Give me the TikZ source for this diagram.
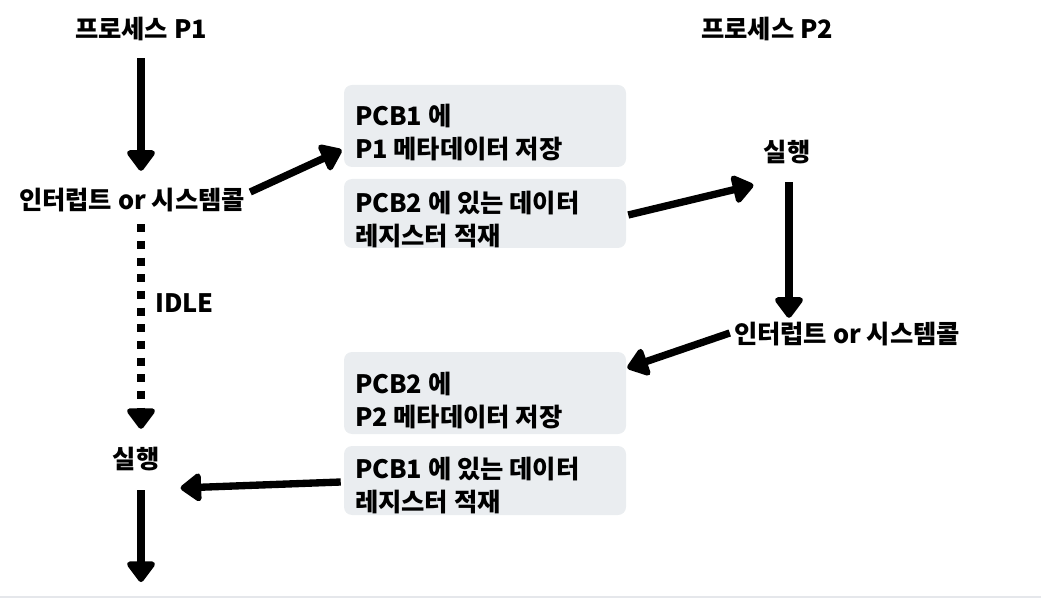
\documentclass[tikz,border=0pt]{standalone}
\usepackage{fontspec}
\newfontfamily\kor{Noto Sans CJK KR}
\usetikzlibrary{arrows.meta}
\definecolor{boxgray}{RGB}{234,237,240}
\definecolor{edgegray}{RGB}{229,231,235}

\tikzset{
  lbl/.style={font=\kor\bfseries\fontsize{19}{24.6}\selectfont, inner sep=0pt},
  pcbbox/.style={fill=boxgray, rounded corners=6pt, minimum width=211.5pt, inner sep=0pt},
  pcbtxt/.style={lbl, align=left, anchor=north west},
  flow/.style={line width=5.5pt, -{Triangle[length=17pt,width=24pt,round]}},
  idleflow/.style={flow, dash pattern=on 6pt off 6.5pt}
}

\begin{document}
\begin{tikzpicture}[x=0.75pt, y=-0.75pt]
\useasboundingbox (0,0) rectangle (1041,598);
\fill[edgegray] (0,596) rectangle (1041,598);

% process labels
\node[lbl] (p1) at (141,29) {프로세스 P1};
\node[lbl] (p2) at (767,29) {프로세스 P2};
\node[lbl] (int1) at (132,200) {인터럽트 or 시스템콜};
\node[lbl] (run1) at (136,459) {실행};
\node[lbl] (run2) at (787,152) {실행};
\node[lbl] (int2) at (847,334) {인터럽트 or 시스템콜};
\node[lbl, anchor=west] (idle) at (155,303) {IDLE};

% PCB boxes
\node[pcbbox, minimum height=61.5pt] (pcb1) at (485,126) {};
\node[pcbbox, minimum height=51.75pt] (pcb2) at (485,213.5) {};
\node[pcbbox, minimum height=61.5pt] (pcb3) at (485,393) {};
\node[pcbbox, minimum height=51.75pt] (pcb4) at (485,480.5) {};
\node[pcbtxt] (pcb1t) at ([shift={(11,19)}]pcb1.north west) {PCB1 에\\P1 메타데이터 저장};
\node[pcbtxt] (pcb2t) at ([shift={(11,12)}]pcb2.north west) {PCB2 에 있는 데이터\\레지스터 적재};
\node[pcbtxt] (pcb3t) at ([shift={(11,20)}]pcb3.north west) {PCB2 에\\P2 메타데이터 저장};
\node[pcbtxt] (pcb4t) at ([shift={(11,11)}]pcb4.north west) {PCB1 에 있는 데이터\\레지스터 적재};
\coordinate (end1) at (141,582);

% arrows
\draw[flow] ([shift={(0,17)}]p1.south) -- ([shift={(9,-17)}]int1.north);
\draw[flow] ([shift={(5,-8)}]int1.east) -- ([shift={(-2,24)}]pcb1.west);
\draw[flow] ([shift={(2,1.5)}]pcb2.east) -- ([shift={(-10,33)}]run2.west);
\draw[flow] ([shift={(2,18)}]run2.south) -- ([shift={(-58,-4)}]int2.north);
\draw[flow] ([shift={(-4,-1)}]int2.west) -- ([shift={(1,-25)}]pcb3.east);
\draw[flow] ([shift={(-3,1.5)}]pcb4.west) -- ([shift={(21,29)}]run1.east);
\draw[idleflow] ([shift={(9,12)}]int1.south) -- ([shift={(5,-18)}]run1.north);
\draw[flow] ([shift={(5,19)}]run1.south) -- (end1);
\end{tikzpicture}
\end{document}
